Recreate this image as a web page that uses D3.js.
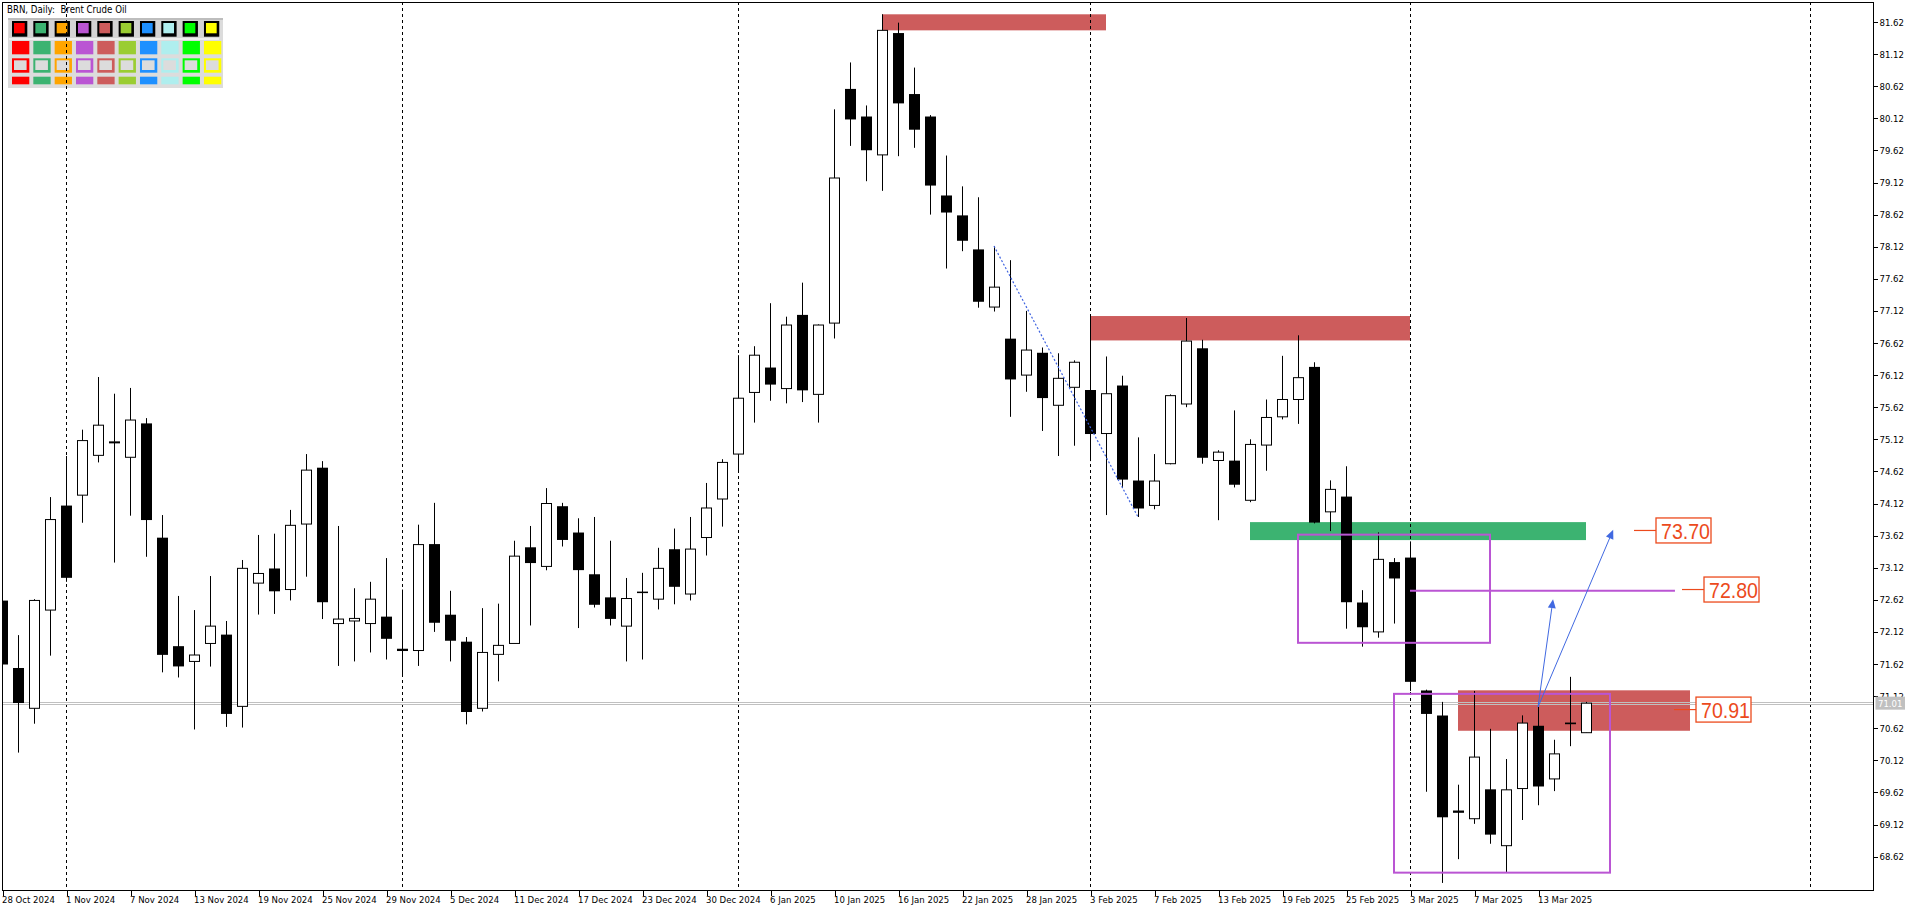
<!DOCTYPE html>
<html><head><meta charset="utf-8">
<script src="https://cdn.jsdelivr.net/npm/d3@7/dist/d3.min.js"></script>
<style>html,body{margin:0;padding:0;background:#fff;overflow:hidden}</style>
</head><body><script>
// ---------- DATA ----------
const dateLabels = ["28 Oct 2024","1 Nov 2024","7 Nov 2024","13 Nov 2024","19 Nov 2024","25 Nov 2024","29 Nov 2024","5 Dec 2024","11 Dec 2024","17 Dec 2024","23 Dec 2024","30 Dec 2024","6 Jan 2025","10 Jan 2025","16 Jan 2025","22 Jan 2025","28 Jan 2025","3 Feb 2025","7 Feb 2025","13 Feb 2025","19 Feb 2025","25 Feb 2025","3 Mar 2025","7 Mar 2025","13 Mar 2025"];
const dateIdx = [0,4,8,12,16,20,24,28,32,36,40,44,48,52,56,60,64,68,72,76,80,84,88,92,96];
const priceTicks = [81.62,81.12,80.62,80.12,79.62,79.12,78.62,78.12,77.62,77.12,76.62,76.12,75.62,75.12,74.62,74.12,73.62,73.12,72.62,72.12,71.62,71.12,70.62,70.12,69.62,69.12,68.62];
const separatorIdx = [4,25,46,68,88,113];

const open  = [72.60,71.55,70.93,72.46,74.08,74.25,74.87,75.07,74.84,75.36,73.58,71.89,71.66,71.94,72.07,70.96,72.88,73.10,72.78,73.80,74.67,72.25,72.29,72.25,72.35,71.85,71.83,73.48,72.38,71.96,70.93,71.77,71.94,73.43,73.14,74.07,73.66,73.01,72.65,72.21,72.74,72.63,73.40,72.71,73.59,74.19,74.89,75.85,76.23,75.91,77.05,75.82,76.93,80.57,80.14,79.55,81.44,80.49,80.14,78.91,78.60,78.07,77.18,76.68,76.12,76.46,75.65,75.93,75.88,75.21,75.95,74.47,74.09,74.74,75.67,76.53,74.79,74.78,74.17,75.03,75.47,75.74,76.24,73.99,74.22,72.57,72.12,73.20,73.27,71.20,70.81,69.33,69.21,69.66,68.79,69.68,70.65,69.83,70.70,70.55];
const high  = [72.75,72.07,72.63,74.22,74.86,75.27,76.09,75.83,75.92,75.45,73.94,72.68,72.46,72.99,72.29,73.24,73.63,73.65,74.02,74.89,74.78,73.77,72.80,72.90,73.27,72.78,73.79,74.13,72.76,72.04,72.49,72.56,73.54,73.77,74.36,74.13,73.89,73.91,73.54,72.96,73.04,73.43,73.73,73.91,74.44,74.81,76.43,76.57,77.24,77.03,77.56,76.91,80.26,80.99,80.32,81.74,81.61,80.91,80.17,79.54,79.06,78.89,78.13,77.91,77.12,76.55,76.46,76.35,77.04,76.41,76.11,75.15,74.89,75.82,77.01,76.67,74.95,75.57,75.12,75.74,76.42,76.74,76.32,74.48,74.70,72.77,73.67,73.27,73.53,71.22,71.03,69.74,71.20,70.61,70.14,70.82,70.95,70.44,71.42,71.03];
const low   = [71.45,70.24,70.69,71.75,72.90,73.82,74.76,73.20,73.93,73.29,71.49,71.41,70.60,71.58,70.64,70.63,72.39,72.40,72.61,72.98,72.32,71.59,71.66,71.80,71.69,71.42,71.59,72.12,71.66,70.68,70.88,71.35,71.94,72.22,73.08,73.45,72.18,72.50,72.22,71.66,71.69,72.47,72.55,72.61,73.31,73.76,74.60,75.38,75.72,75.68,75.70,75.38,76.69,79.69,79.14,78.99,79.53,79.66,78.62,77.78,78.05,77.17,77.11,75.47,75.86,75.25,74.86,75.02,74.78,73.94,74.36,73.91,74.03,74.73,75.62,74.74,73.86,74.37,74.14,74.63,75.43,75.36,73.81,73.69,72.17,71.89,72.03,72.25,71.20,69.63,68.21,68.58,69.13,68.82,68.38,69.19,69.42,69.64,70.34,70.55];
const close = [71.62,71.02,72.61,73.87,72.97,75.10,75.34,75.08,75.42,73.87,71.77,71.59,71.76,72.21,70.85,73.11,73.03,72.76,73.78,74.64,72.59,72.32,72.33,72.63,72.02,71.83,73.48,72.27,71.99,70.88,71.80,71.91,73.30,73.20,74.12,73.56,73.09,72.55,72.33,72.64,72.74,73.11,72.83,73.41,74.05,74.76,75.76,76.43,75.98,76.90,75.89,76.90,79.19,80.11,79.63,81.49,80.36,79.95,79.08,78.66,78.22,77.27,77.49,76.06,76.51,75.77,76.07,76.32,75.21,75.83,74.50,74.05,74.47,75.80,76.65,74.84,74.92,74.42,75.04,75.46,75.74,76.08,73.83,74.34,72.59,72.20,73.25,72.96,71.35,70.85,69.24,69.31,70.17,68.97,69.66,70.70,69.72,70.22,70.69,71.01];
const lastPrice = 71.01;

// zones: [fromBar, toBar, lowPrice, highPrice]
const redZones   = [[55,69,81.49,81.74],[68,88,76.66,77.04],[91,105.5,70.58,71.21]];
const greenZones = [[78,99,73.55,73.83]];
const purpleRects = [[81,93,71.95,73.635],[87,100.5,68.37,71.155]];
const purpleLine = [88,104.56,72.76];
const dottedTrend = [[62,78.13],[71,73.91]];
const arrowFrom = [96,70.95];
const arrowTo = [[96.94,72.63],[100.7,73.71]];
const priceLabels = [["73.70",102,73.70],["72.80",105,72.78],["70.91",104.5,70.91]];
const paletteColors = ["#FF0000","#3CB371","#FFA500","#BA55D3","#CD5C5C","#9ACD32","#1E90FF","#AFEEEE","#00FF00","#FFFF00"];

// ---------- LAYOUT ----------
const W = 1916, H = 911;
const L = 2, T = 2, R = 1873, B = 890;
const FONT = "'DejaVu Sans Condensed','DejaVu Sans',sans-serif";
const x = d3.scaleLinear().domain([0, 116.9375]).range([L, R]);
const y = d3.scaleLinear().domain([68.62, 81.62]).range([856.6, 22]);

const svg = d3.select("body").append("svg").attr("width", W).attr("height", H)
  .style("display","block").style("background","#fff");

svg.append("defs").append("clipPath").attr("id","plot")
  .append("rect").attr("x",L).attr("y",T).attr("width",R-L).attr("height",B-T);

// palette panel (drawn first: separators pass over it)
const pal = svg.append("g");
pal.append("rect").attr("x",8).attr("y",18).attr("width",215).attr("height",70).attr("fill","#DCDCDC");
pal.append("rect").attr("x",8).attr("y",18).attr("width",215).attr("height",2).attr("fill","#BDBDBD");
pal.append("rect").attr("x",9).attr("y",20).attr("width",210).attr("height",18).attr("fill","#D4D4D4");
pal.append("rect").attr("x",9).attr("y",38.5).attr("width",210).attr("height",1).attr("fill","#FFFFFF");
paletteColors.forEach((c,k)=>{
  const x0 = 12 + 21.33*k;
  pal.append("rect").attr("x",x0).attr("y",21).attr("width",15.3).attr("height",15.7).attr("fill","#000");
  pal.append("rect").attr("x",x0+2).attr("y",23).attr("width",10.7).attr("height",10.3).attr("fill",c);
  pal.append("rect").attr("x",x0).attr("y",41).attr("width",17.3).attr("height",13.3).attr("fill",c);
  pal.append("rect").attr("x",x0).attr("y",58.3).attr("width",17.3).attr("height",14.4).attr("fill",c);
  pal.append("rect").attr("x",x0+2).attr("y",60.3).attr("width",12.6).attr("height",9.7).attr("fill","#DCDCDC");
  pal.append("rect").attr("x",x0).attr("y",76.7).attr("width",17.3).attr("height",7.6).attr("fill",c);
});

const plot = svg.append("g").attr("clip-path","url(#plot)");

// zones (background)
function zone(g, z, color){
  g.append("rect").attr("x",x(z[0])).attr("y",y(z[3])).attr("width",x(z[1])-x(z[0]))
   .attr("height",y(z[2])-y(z[3])).attr("fill",color);
}
redZones.forEach(z=>zone(plot,z,"#CD5C5C"));
greenZones.forEach(z=>zone(plot,z,"#3CB371"));

// period separators
plot.selectAll("line.sep").data(separatorIdx).enter().append("line")
  .attr("x1",d=>Math.round(x(d))+0.5).attr("x2",d=>Math.round(x(d))+0.5)
  .attr("y1",T).attr("y2",B).attr("stroke","#000").attr("stroke-width",1)
  .attr("stroke-dasharray","3,3");

// current price line (double grey)
const yp = y(lastPrice);
[-1,1].forEach(o=>plot.append("line").attr("x1",L).attr("x2",R).attr("y1",Math.round(yp)+o+0.5).attr("y2",Math.round(yp)+o+0.5)
  .attr("stroke","#C0C0C0").attr("stroke-width",1));

// candles
const bars = open.map((o,i)=>({i,o,h:high[i],l:low[i],c:close[i]}));
const cg = plot.append("g");
bars.forEach(b=>{
  const cx = Math.round(x(b.i));
  cg.append("line").attr("x1",cx+0.5).attr("x2",cx+0.5).attr("y1",y(b.h)).attr("y2",y(b.l))
    .attr("stroke","#000").attr("stroke-width",1);
  const top = y(Math.max(b.o,b.c)), bot = y(Math.min(b.o,b.c));
  if (b.c > b.o) {
    cg.append("rect").attr("x",cx-4.5).attr("y",top).attr("width",10).attr("height",Math.max(bot-top,1))
      .attr("fill","#fff").attr("stroke","#000").attr("stroke-width",1);
  } else {
    cg.append("rect").attr("x",cx-5).attr("y",top-0.5).attr("width",11).attr("height",Math.max(bot-top+1,1.5))
      .attr("fill","#000");
  }
});

// dotted trend line
plot.append("line").attr("x1",x(dottedTrend[0][0])).attr("y1",y(dottedTrend[0][1]))
  .attr("x2",x(dottedTrend[1][0])).attr("y2",y(dottedTrend[1][1]))
  .attr("stroke","#3F63E0").attr("stroke-width",1.2).attr("stroke-dasharray","2,2");

// purple rectangles & line
purpleRects.forEach(r=>{
  plot.append("rect").attr("x",x(r[0])).attr("y",y(r[3])).attr("width",x(r[1])-x(r[0]))
    .attr("height",y(r[2])-y(r[3])).attr("fill","none").attr("stroke","#BA55D3").attr("stroke-width",2);
});
plot.append("line").attr("x1",x(purpleLine[0])).attr("x2",x(purpleLine[1]))
  .attr("y1",y(purpleLine[2])).attr("y2",y(purpleLine[2])).attr("stroke","#BA55D3").attr("stroke-width",2);

// arrows
arrowTo.forEach(t=>{
  const x0=x(arrowFrom[0]), y0=y(arrowFrom[1]), x1=x(t[0]), y1=y(t[1]);
  const dx=x1-x0, dy=y1-y0, len=Math.hypot(dx,dy), ux=dx/len, uy=dy/len;
  const hl=9, hw=4;
  const bx=x1-ux*hl, by=y1-uy*hl;
  plot.append("line").attr("x1",x0).attr("y1",y0).attr("x2",bx).attr("y2",by)
    .attr("stroke","#4169E1").attr("stroke-width",1);
  plot.append("polygon").attr("points",[[x1,y1],[bx-uy*hw,by+ux*hw],[bx+uy*hw,by-ux*hw]].map(p=>p.join(",")).join(" "))
    .attr("fill","#4169E1");
});

// price labels
const LC = "#EC4A1C";
priceLabels.forEach(p=>{
  const lx = x(p[1]), ly = y(p[2]);
  plot.append("line").attr("x1",lx).attr("x2",lx+22).attr("y1",ly).attr("y2",ly).attr("stroke",LC).attr("stroke-width",1.2);
  plot.append("rect").attr("x",lx+22).attr("y",ly-12.5).attr("width",55).attr("height",25)
    .attr("fill","#fff").attr("stroke",LC).attr("stroke-width",1.3);
  plot.append("text").attr("x",lx+27).attr("y",ly+8.5).attr("font-family","'Liberation Sans',Arial,sans-serif")
    .attr("font-size",22).attr("textLength",49).attr("lengthAdjust","spacingAndGlyphs")
    .attr("fill",LC).text(p[0]);
});

// frame
svg.append("rect").attr("x",L+0.5).attr("y",T+0.5).attr("width",R-L).attr("height",B-T)
  .attr("fill","none").attr("stroke","#000").attr("stroke-width",1).attr("shape-rendering","crispEdges");

// title
svg.append("text").attr("x",7).attr("y",12.5).attr("font-family",FONT).attr("font-size",9.6)
  .attr("fill","#000").style("white-space","pre").text("BRN, Daily:  Brent Crude Oil");

// right axis
const ya = svg.append("g").attr("transform",`translate(${R+0.5},0)`)
  .call(d3.axisRight(y).tickValues(priceTicks).tickSize(4).tickSizeOuter(0).tickPadding(2).tickFormat(d3.format(".2f")));
ya.select(".domain").remove();
ya.selectAll("line").attr("stroke","#000").attr("shape-rendering","crispEdges");
ya.selectAll("text").attr("font-family",FONT).attr("font-size",9.5).attr("fill","#000");

// bottom axis
const xa = svg.append("g").attr("transform",`translate(0.5,${B+0.5})`)
  .call(d3.axisBottom(x).tickValues(dateIdx).tickSize(5).tickSizeOuter(0).tickPadding(1).tickFormat((d,i)=>dateLabels[i]));
xa.select(".domain").remove();
xa.selectAll("line").attr("stroke","#000").attr("shape-rendering","crispEdges");
xa.selectAll("text").attr("font-family",FONT).attr("font-size",9.5).attr("fill","#000")
  .attr("text-anchor","start").attr("x",-1);

// current price tag
svg.append("rect").attr("x",R+2.5).attr("y",yp-6.5).attr("width",29.5).attr("height",13).attr("fill","#C0C0C0");
svg.append("text").attr("x",R+5).attr("y",yp+3.5).attr("font-family",FONT).attr("font-size",9.5)
  .attr("fill","#fff").text(d3.format(".2f")(lastPrice));
</script></body></html>
